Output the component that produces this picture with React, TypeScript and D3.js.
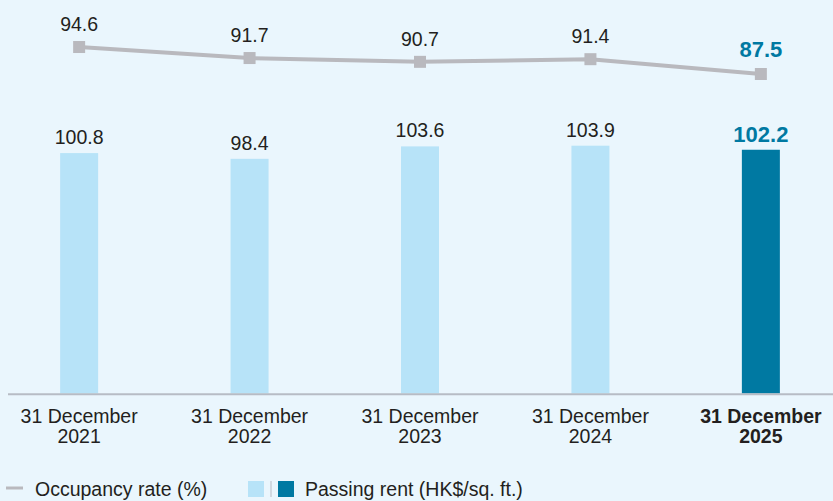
import React from "react";
import * as d3 from "d3";

const categories = ["31 December|2021", "31 December|2022", "31 December|2023", "31 December|2024", "31 December|2025"];
const passingRent = [100.8, 98.4, 103.6, 103.9, 102.2];
const occupancy = [94.6, 91.7, 90.7, 91.4, 87.5];
const rentLabels = ["100.8", "98.4", "103.6", "103.9", "102.2"];
const occLabels = ["94.6", "91.7", "90.7", "91.4", "87.5"];
const legendItems = ["Occupancy rate (%)", "Passing rent (HK$/sq. ft.)"];

const W = 833;
const H = 501;
const FONT = "'Liberation Sans', Arial, sans-serif";
const BG = "#eaf6fd";
const LIGHT = "#b7e3f8";
const DARK = "#0079a2";
const GREY = "#b9b9be";
const TEXT = "#231f20";

export default function App() {
  const x = d3.scaleBand<string>().domain(categories).range([-6, 846]).paddingInner(0.777).paddingOuter(0.388);
  const yBar = d3.scaleLinear().domain([0, 100]).range([393.5, 155]);
  const yLine = d3.scaleLinear().domain([80, 100]).range([102.5, 26.5]);
  const bw = x.bandwidth();
  const cx = (c: string) => (x(c) as number) + bw / 2;
  const last = categories.length - 1;

  const line = d3
    .line<number>()
    .x((_, i) => cx(categories[i]))
    .y((d) => yLine(d));

  return (
    <svg
      width={W}
      height={H}
      style={{ display: "block", fontFamily: FONT, position: "fixed", left: 0, top: 0 }}
    >
      <rect width={W} height={H} fill={BG} />
      {passingRent.map((v, i) => (
        <rect
          key={"b" + i}
          x={x(categories[i])}
          y={yBar(v)}
          width={bw}
          height={yBar(0) - yBar(v)}
          fill={i === last ? DARK : LIGHT}
        />
      ))}
      <line x1={8} x2={833} y1={394.2} y2={394.2} stroke="#b7bcc5" strokeWidth={2} />
      {passingRent.map((v, i) => (
        <text
          key={"bl" + i}
          x={cx(categories[i])}
          y={yBar(v) - (i === last ? 8 : 9)}
          textAnchor="middle"
          fontSize={i === last ? 22 : 19.5}
          fontWeight={i === last ? "bold" : "normal"}
          fill={i === last ? DARK : TEXT}
        >
          {rentLabels[i]}
        </text>
      ))}
      <path d={line(occupancy) || ""} fill="none" stroke={GREY} strokeWidth={4} />
      {occupancy.map((v, i) => (
        <rect key={"m" + i} x={cx(categories[i]) - 6} y={yLine(v) - 6} width={12} height={12} fill={GREY} />
      ))}
      {occupancy.map((v, i) => (
        <text
          key={"ol" + i}
          x={cx(categories[i])}
          y={yLine(v) - (i === last ? 17 : 16)}
          textAnchor="middle"
          fontSize={i === last ? 22 : 19.5}
          fontWeight={i === last ? "bold" : "normal"}
          fill={i === last ? DARK : TEXT}
        >
          {occLabels[i]}
        </text>
      ))}
      {categories.map((c, i) => {
        const [a, b] = c.split("|");
        return (
          <text
            key={"x" + i}
            x={cx(c)}
            textAnchor="middle"
            fontSize={19.5}
            fontWeight={i === last ? "bold" : "normal"}
            fill={TEXT}
          >
            <tspan x={cx(c)} y={423}>{a}</tspan>
            <tspan x={cx(c)} y={443}>{b}</tspan>
          </text>
        );
      })}
      <rect x={6} y={486.5} width={17} height={3} fill={GREY} />
      <text x={35} y={496} fontSize={19.5} fill={TEXT}>{legendItems[0]}</text>
      <rect x={248} y={481} width={16} height={16} fill={LIGHT} />
      <line x1={271} x2={271} y1={481} y2={497} stroke="#b7bcc5" strokeWidth={1} />
      <rect x={278} y={481} width={16} height={16} fill={DARK} />
      <text x={305} y={496} fontSize={19.5} fill={TEXT}>{legendItems[1]}</text>
    </svg>
  );
}
